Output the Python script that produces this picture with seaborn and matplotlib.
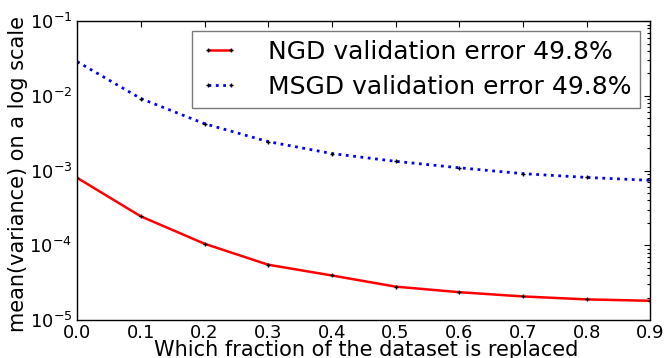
import numpy as np
import pandas as pd
import matplotlib
matplotlib.use("Agg")
import matplotlib.pyplot as plt
import seaborn as sns

# fraction of the dataset replaced
fraction = [0.0, 0.1, 0.2, 0.3, 0.4, 0.5, 0.6, 0.7, 0.8, 0.9]
# mean(variance) per method
ngd_var = [8.0e-4, 2.44e-4, 1.05e-4, 5.5e-5, 3.95e-5, 2.8e-5, 2.36e-5, 2.07e-5, 1.89e-5, 1.81e-5]
msgd_var = [2.87e-2, 9.2e-3, 4.24e-3, 2.44e-3, 1.69e-3, 1.33e-3, 1.09e-3, 9.1e-4, 8.1e-4, 7.4e-4]
labels = ["NGD validation error 49.8%", "MSGD validation error 49.8%"]

sns.set_style("white")
plt.rcParams["font.family"] = ["DejaVu Sans"]
plt.rcParams["mathtext.default"] = "regular"
plt.rcParams["xtick.direction"] = "in"
plt.rcParams["ytick.direction"] = "in"
for k in ["text.color", "axes.labelcolor", "xtick.color", "ytick.color"]:
    plt.rcParams[k] = "black"

fig = plt.figure(figsize=(6.68, 3.58), dpi=100)
ax = fig.add_axes([0.1155, 0.106, 0.858, 0.835])

sns.lineplot(x=fraction, y=ngd_var, ax=ax, color="red", linewidth=1.8,
             marker="+", markersize=3.5, markeredgecolor="k", markeredgewidth=1,
             label=labels[0])
sns.lineplot(x=fraction, y=msgd_var, ax=ax, color="blue", linewidth=2,
             linestyle=":", marker="+", markersize=3.5, markeredgecolor="k",
             markeredgewidth=1, label=labels[1])

ax.set_yscale("log")
ax.set_xlim(0.0, 0.9)
ax.set_ylim(1e-5, 1e-1)
ax.set_xticks(fraction)
ax.set_xticklabels([f"{v:.1f}" for v in fraction])
ax.tick_params(axis="both", which="both", top=True, right=True, labelsize=13,
               length=4, width=0.8, color="k")
ax.tick_params(axis="y", which="minor", length=2)
ax.tick_params(axis="x", pad=3)
for s in ax.spines.values():
    s.set_visible(True)
    s.set_color("k")
    s.set_linewidth(1)

ax.set_xlabel("Which fraction of the dataset is replaced", fontsize=15, va="top")
ax.xaxis.set_label_coords(0.504, -0.068)
ax.set_ylabel("mean(variance) on a log scale", fontsize=15)
ax.yaxis.set_label_coords(-0.086, 0.49)

leg = ax.legend(loc="upper right", fontsize=18, numpoints=2, fancybox=False,
                frameon=True, borderaxespad=0.4, handlelength=1.5,
                handletextpad=1.2, borderpad=0.35, labelspacing=0.45)
leg.get_frame().set_edgecolor("0.35")
leg.get_frame().set_linewidth(1)

fig.savefig("out.png", dpi=100)
